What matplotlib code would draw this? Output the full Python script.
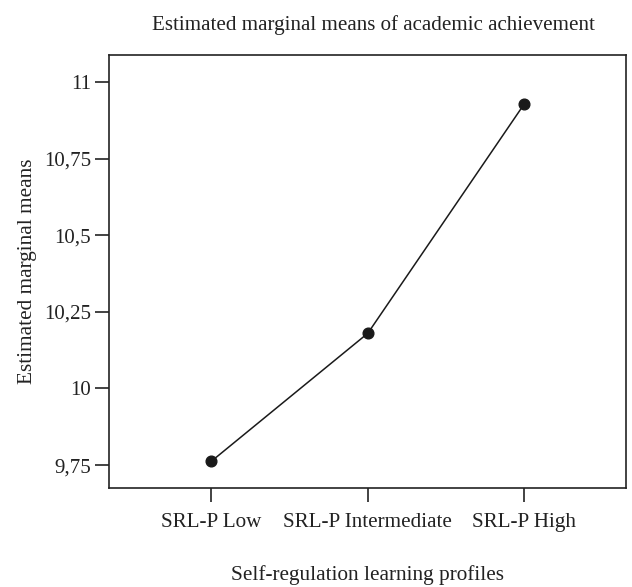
import matplotlib
matplotlib.use('Agg')
import matplotlib.pyplot as plt
from matplotlib.ticker import FixedLocator, FuncFormatter

# ================= 数据 =================
profiles = ['SRL-P Low', 'SRL-P Intermediate', 'SRL-P High']
means = [9.762, 10.18, 10.929]
y_ticks = [9.75, 10.0, 10.25, 10.5, 10.75, 11.0]

plt.rcParams['font.family'] = ['Liberation Serif', 'DejaVu Serif']

fig = plt.figure(figsize=(6.32, 5.87), dpi=100)
ax = fig.add_axes([0.173, 0.169, 0.818, 0.737])

x = list(range(len(profiles)))
ax.plot(x, means, color='#1a1a1a', lw=1.1, marker='o', markersize=7.7,
        markerfacecolor='#1a1a1a', markeredgecolor='#1a1a1a')

ax.set_xlim(-0.65, 2.65)
ax.set_ylim(9.676, 11.087)
ax.set_xticks(x)
ax.set_xticklabels(profiles, fontsize=15.2, color='#222222')
ax.yaxis.set_major_locator(FixedLocator(y_ticks))
# 欧式小数点：用逗号
ax.yaxis.set_major_formatter(FuncFormatter(lambda v, p: f'{v:g}'.replace('.', ',')))
ax.tick_params(axis='y', labelsize=15, labelcolor='#222222', pad=3)
ax.tick_params(axis='x', pad=8)
ax.tick_params(direction='out', length=10, width=1.2, color='#222222')

for s in ax.spines.values():
    s.set_linewidth(1.2)
    s.set_color('#222222')

ax.set_ylabel('Estimated marginal means', fontsize=15.3, color='#222222', labelpad=5)
ax.set_xlabel('Self-regulation learning profiles', fontsize=15.3, color='#222222', labelpad=24)
fig.text(0.591, 0.957, 'Estimated marginal means of academic achievement',
         ha='center', va='center', fontsize=15.1, color='#222222')

fig.savefig('out.png', dpi=100)
